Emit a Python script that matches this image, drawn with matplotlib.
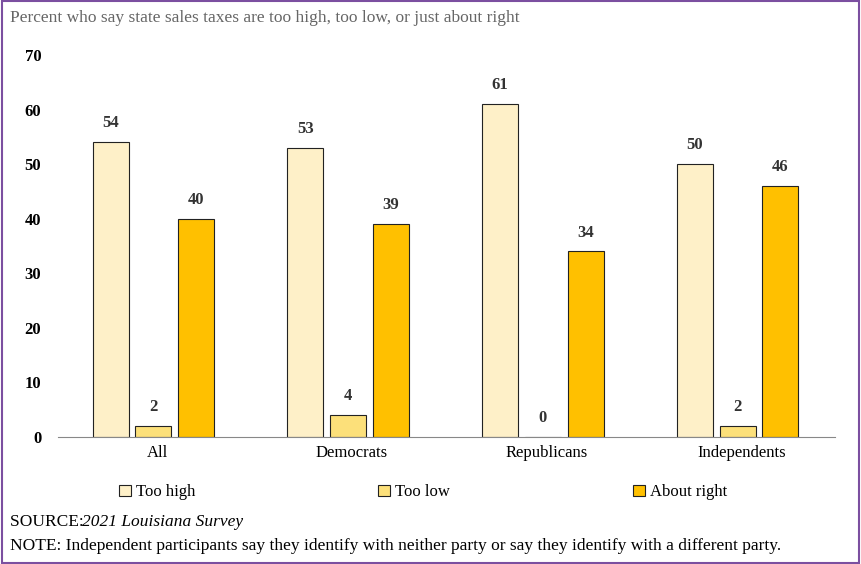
import matplotlib.pyplot as plt
import numpy as np

categories = ["All", "Democrats", "Republicans", "Independents"]
too_high = [54, 53, 61, 50]
too_low = [2, 4, 0, 2]
about_right = [40, 39, 34, 46]
series_names = ["Too high", "Too low", "About right"]

serif = "Liberation Serif"
fig = plt.figure(figsize=(8.61, 5.64), dpi=100)
ax = fig.add_axes([58/861, 1-437/564, 777/861, 382/564])

x = np.arange(len(categories))
colors = ["#FEF0C8", "#FCE07A", "#FFC000"]
offsets = [-0.24, -0.02, 0.2]
width = 0.185
for vals, off, col, name in zip([too_high, too_low, about_right], offsets, colors, series_names):
    bars = ax.bar(x + off, vals, width, color=col, edgecolor="#222222", linewidth=0.8, label=name)
    for b, v in zip(bars, vals):
        ax.text(b.get_x() + b.get_width()/2, v + 2, str(v), ha="center", va="bottom",
                fontsize=12, fontweight="bold", family=serif, color="#333333")

ax.set_xlim(-0.51, 3.48)
ax.set_ylim(0, 70)
ax.set_yticks(range(0, 71, 10))
ax.set_xticks(x)
ax.set_xticklabels(categories, family=serif, fontsize=12)
for lab in ax.get_yticklabels():
    lab.set_family(serif); lab.set_fontsize(12); lab.set_fontweight("bold")
for s in ["top", "right", "left"]:
    ax.spines[s].set_visible(False)
ax.spines["bottom"].set_color("#888888")
ax.tick_params(axis="y", length=0, pad=12)
ax.tick_params(axis="x", length=0, pad=6)

ax.legend(loc="upper center", bbox_to_anchor=(0.47, -0.085), ncol=3, frameon=False,
          prop={"family": serif, "size": 12}, handlelength=0.7, handleheight=0.7,
          columnspacing=11, handletextpad=0.3)

fig.text(10/861, 1-18/564, "Percent who say state sales taxes are too high, too low, or just about right",
         family=serif, fontsize=12.5, color="#666666", va="center")
fig.text(10/861, 1-522/564, "SOURCE: ", family=serif, fontsize=12.5, va="center")
fig.text(82/861, 1-522/564, "2021 Louisiana Survey", family=serif, fontsize=12.5, style="italic", va="center")
fig.text(10/861, 1-546/564, "NOTE: Independent participants say they identify with neither party or say they identify with a different party.",
         family=serif, fontsize=12.5, va="center")

fig.patches.append(plt.Rectangle((0.002, 0.002), 0.996, 0.996, transform=fig.transFigure,
                                 fill=False, edgecolor="#7B4FA0", linewidth=1.5))
fig.savefig("out.png", dpi=100)
